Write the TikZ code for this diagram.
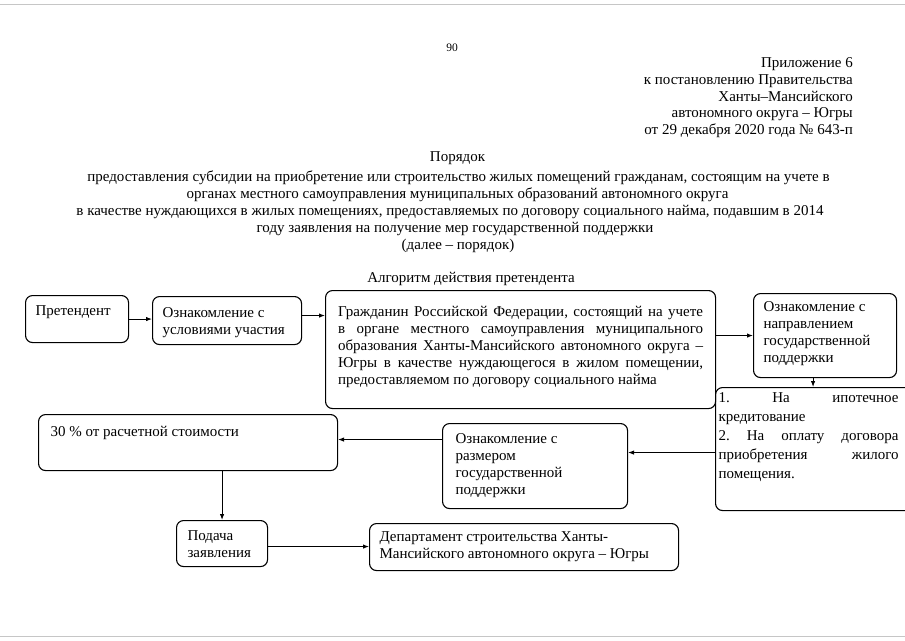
\documentclass[tikz,border=0pt]{standalone}
\usepackage{fontspec}
\setmainfont{Liberation Serif}
\usetikzlibrary{arrows.meta}
\frenchspacing
\newcommand\bt[4]{\parbox[c][#2pt][t]{#1pt}{\raggedright\frenchspacing\rule{0pt}{#3pt}#4}}
\newcommand\jl[2]{\makebox[#1pt][s]{#2}}
\begin{document}
\begin{tikzpicture}[x=1pt,y=-1pt,font=\fontsize{15}{17}\selectfont,
  bx/.style={draw,line width=1.1pt,rounded corners=7pt,anchor=north west,inner ysep=0pt},
  arr/.style={draw,line width=0.9pt,-{Latex[length=6pt,width=4.5pt]}},
  ln/.style={anchor=base,inner sep=0pt},
  scan/.style={draw=gray!45,line width=1pt}]
\useasboundingbox (0,0) rectangle (905,640);
\clip (0,0) rectangle (905,640);
\draw[scan] (0,4) -- (905,4);
\draw[scan] (0,636) -- (905,636);
% header
\node[ln,font=\fontsize{11.5}{13}\selectfont] (pg) at (452,51) {90};
\node[ln,anchor=base east] (h1) at (853,67) {Приложение 6};
\node[ln,anchor=base east] (h2) at (853,84) {к постановлению Правительства};
\node[ln,anchor=base east] (h3) at (853,101) {Ханты–Мансийского};
\node[ln,anchor=base east] (h4) at (853,117) {автономного округа – Югры};
\node[ln,anchor=base east] (h5) at (853,134) {от 29 декабря 2020 года № 643-п};
% title
\node[ln] (t1) at (457.5,161) {Порядок};
\node[ln] (t2) at (458.5,181) {предоставления субсидии на приобретение или строительство жилых помещений гражданам, состоящим на учете в};
\node[ln] (t3) at (457.5,198) {органах местного самоуправления муниципальных образований автономного округа};
\node[ln] (t4) at (450,215) {в качестве нуждающихся в жилых помещениях, предоставляемых по договору социального найма, подавшим в 2014};
\node[ln] (t5) at (455,232) {году заявления на получение мер государственной поддержки};
\node[ln] (t6) at (458,249) {(далее – порядок)};
\node[ln] (alg) at (471,282) {Алгоритм действия претендента};
% boxes
\node[bx,inner xsep=10pt] (pret) at (25,295) {\bt{83}{47}{20}{Претендент}};
\node[bx,inner xsep=10pt] (usl) at (152,296) {\bt{129}{48}{21}{Ознакомление с\\условиями участия}};
\node[bx,inner xsep=12.5pt] (grazh) at (325,290) {\bt{365}{118}{26}{\jl{365}{Гражданин Российской Федерации, состоящий на учете}\\\jl{365}{в органе местного самоуправления муниципального}\\\jl{365}{образования Ханты-Мансийского автономного округа –}\\\jl{365}{Югры в качестве нуждающегося в жилом помещении,}\\предоставляемом по договору социального найма}};
\node[bx,inner xsep=10pt] (napr) at (753,293) {\bt{123}{84}{18}{Ознакомление с\\направлением\\государственной\\поддержки}};
\node[bx,inner xsep=3pt] (opts) at (715,387) {\bt{200}{123}{15}{\baselineskip=19pt \jl{180}{1. На ипотечное}\\кредитование\\\jl{180}{2. На оплату договора}\\\jl{180}{приобретения жилого}\\помещения.}};
\node[bx,inner xsep=13pt] (razm) at (442,423) {\bt{159}{85}{20}{Ознакомление с\\размером\\государственной\\поддержки}};
\node[bx,inner xsep=12pt] (pct) at (38,414) {\bt{275}{56}{22}{30 \% от расчетной стоимости}};
\node[bx,inner xsep=11pt] (pod) at (176,520) {\bt{69}{46}{20}{Подача\\заявления}};
\node[bx,inner xsep=10pt] (dep) at (369,523) {\bt{289}{47}{18}{Департамент строительства Ханты-\\Мансийского автономного округа – Югры}};
% connectors
\draw[arr] (pret.east) -- (pret.east -| usl.west);
\draw[arr] ([yshift=5pt]usl.east) -- ([yshift=5pt]usl.east -| grazh.west);
\draw[arr] (grazh.east |- napr.west) -- (napr.west);
\draw[arr] ([xshift=-12pt]napr.south) -- ([xshift=-12pt]napr.south |- opts.north);
\draw[arr] ([yshift=-3.5pt]opts.west) -- ([yshift=-3.5pt]opts.west -| razm.east);
\draw[arr] ([yshift=3pt]razm.west |- pct.east) -- ([yshift=3pt]pct.east);
\draw[arr] (pod.north |- pct.south) -- (pod.north);
\draw[arr] ([yshift=-3pt]pod.east) -- ([yshift=-3pt]pod.east -| dep.west);
\end{tikzpicture}
\end{document}
